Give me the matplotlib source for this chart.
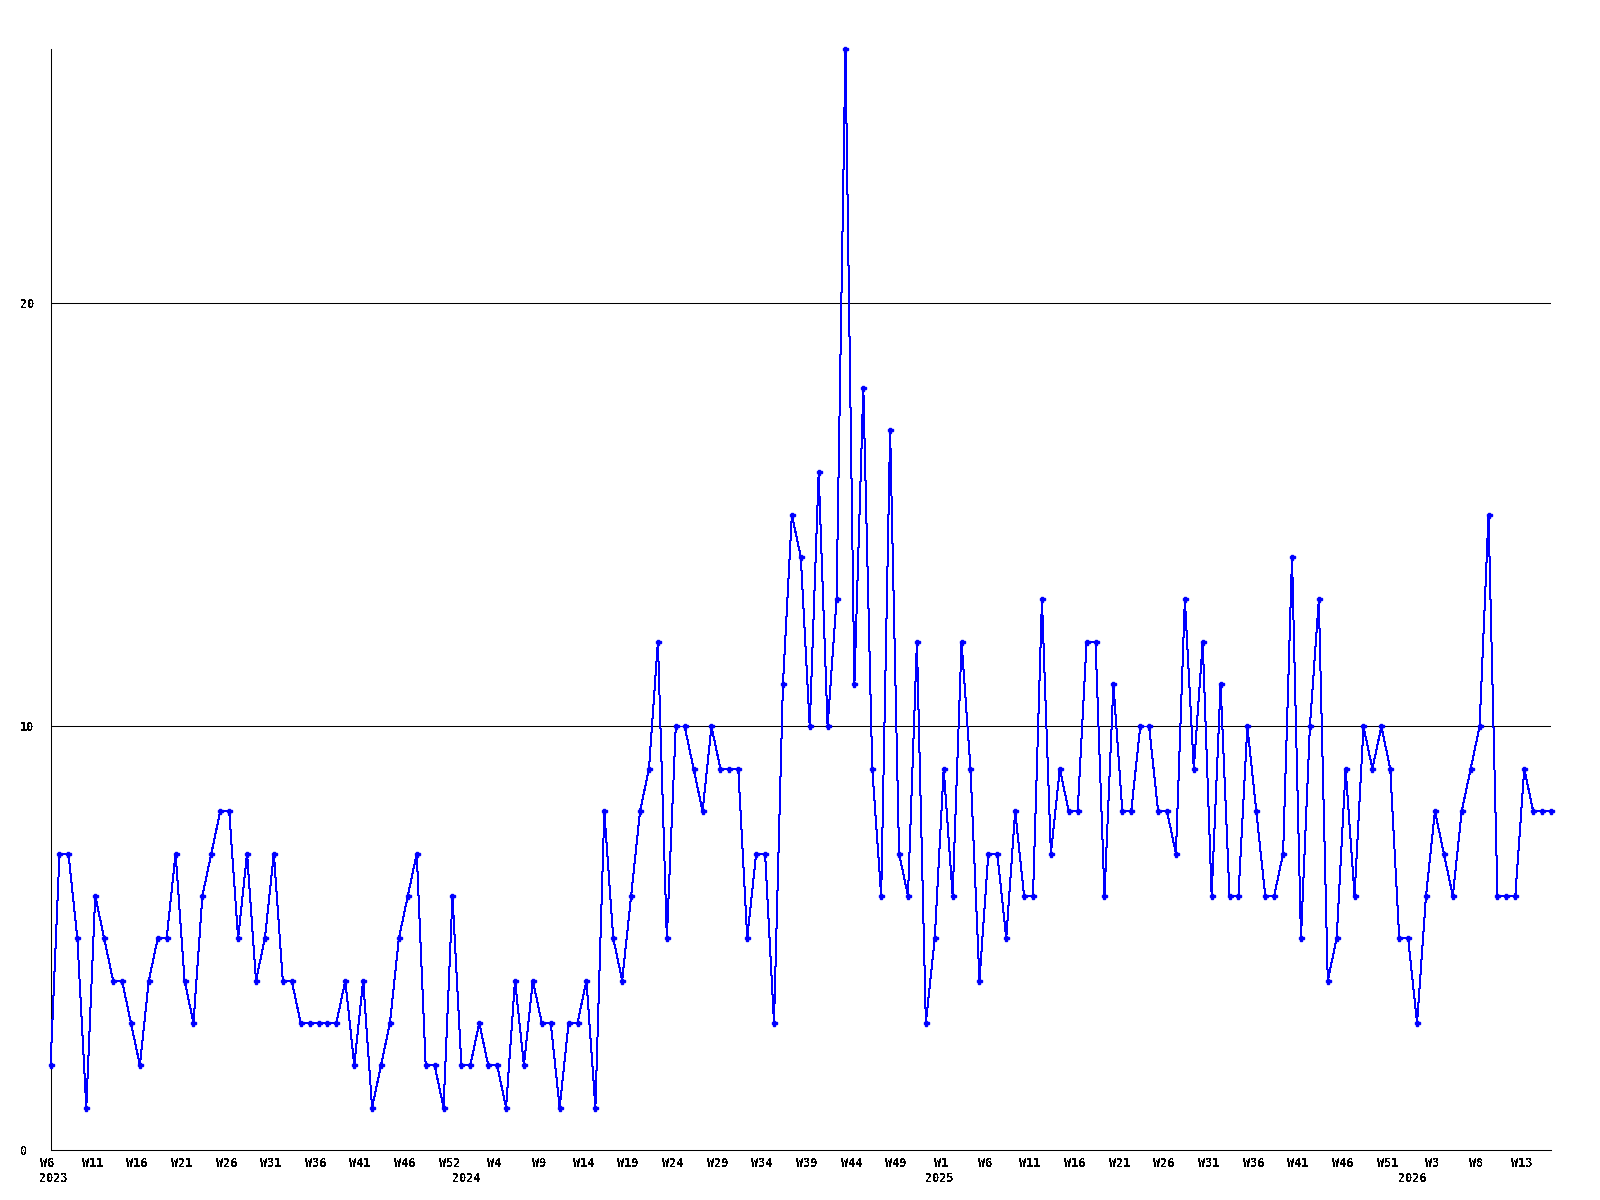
import matplotlib
matplotlib.use('Agg')
import matplotlib.pyplot as plt
import matplotlib.transforms as mtransforms

# weekly counts, 2023 W6 .. 2026
counts = [2, 7, 7, 5, 1, 6, 5, 4, 4, 3,
          2, 4, 5, 5, 7, 4, 3, 6, 7, 8,
          8, 5, 7, 4, 5, 7, 4, 4, 3, 3,
          3, 3, 3, 4, 2, 4, 1, 2, 3, 5,
          6, 7, 2, 2, 1, 6, 2, 2, 3, 2,
          2, 1, 4, 2, 4, 3, 3, 1, 3, 3,
          4, 1, 8, 5, 4, 6, 8, 9, 12, 5,
          10, 10, 9, 8, 10, 9, 9, 9, 5, 7,
          7, 3, 11, 15, 14, 10, 16, 10, 13, 26,
          11, 18, 9, 6, 17, 7, 6, 12, 3, 5,
          9, 6, 12, 9, 4, 7, 7, 5, 8, 6,
          6, 13, 7, 9, 8, 8, 12, 12, 6, 11,
          8, 8, 10, 10, 8, 8, 7, 13, 9, 12,
          6, 11, 6, 6, 10, 8, 6, 6, 7, 14,
          5, 10, 13, 4, 5, 9, 6, 10, 9, 10,
          9, 5, 5, 3, 6, 8, 7, 6, 8, 9,
          10, 15, 6, 6, 6, 9, 8, 8, 8]

week_labels = ['W6', 'W11', 'W16', 'W21', 'W26', 'W31', 'W36', 'W41', 'W46', 'W52',
               'W4', 'W9', 'W14', 'W19', 'W24', 'W29', 'W34', 'W39', 'W44', 'W49',
               'W1', 'W6', 'W11', 'W16', 'W21', 'W26', 'W31', 'W36', 'W41', 'W46',
               'W51', 'W3', 'W8', 'W13']
years = ['2023', '2024', '2025', '2026']
year_index = [0, 47, 100, 153]

plt.rcParams['font.family'] = 'DejaVu Sans Mono'
plt.rcParams['font.weight'] = 'bold'
plt.rcParams['text.antialiased'] = False

x = list(range(len(counts)))

fig = plt.figure(figsize=(16, 12), dpi=100)
ax = fig.add_axes([0.0316, 0.0417, 0.9378, 0.9175])

for v in (10, 20):
    ax.axhline(v, color='black', lw=0.75, zorder=0)
ax.plot(x, counts, color='#0000ff', lw=0.72, marker='P', ms=3.6,
        antialiased=False, clip_on=False, zorder=3)

ax.set_xlim(0, len(counts) - 1)
ax.set_ylim(0, 26)
for s in ('top', 'right'):
    ax.spines[s].set_visible(False)
for s in ('left', 'bottom'):
    ax.spines[s].set_linewidth(0.75)

ax.set_yticks([0, 10, 20])
ax.set_yticklabels(['0', '10', '20'], fontsize=8.5, fontweight='bold')
for lbl in ax.get_yticklabels():
    lbl.set_horizontalalignment('left')
ax.tick_params(axis='y', length=0, pad=22)

ax.set_xticks(range(0, 5 * len(week_labels), 5))
ax.set_xticklabels(week_labels, fontsize=8.5, fontweight='bold')
ax.tick_params(axis='x', length=0, pad=5)
shift = mtransforms.ScaledTranslation(-3 / 100, 0, fig.dpi_scale_trans)
for lbl in ax.get_xticklabels():
    lbl.set_transform(lbl.get_transform() + shift)

for i, (yr, pos) in enumerate(zip(years, year_index)):
    if i == 0:
        ax.annotate(yr, xy=(pos, 0), xycoords=('data', 'axes fraction'),
                    xytext=(-8, -16), textcoords='offset points',
                    ha='left', va='top', fontsize=8.5, fontweight='bold')
    else:
        ax.annotate(yr, xy=(pos, 0), xycoords=('data', 'axes fraction'),
                    xytext=(-3, -16), textcoords='offset points',
                    ha='center', va='top', fontsize=8.5, fontweight='bold')

plt.savefig('out.png', dpi=100)
